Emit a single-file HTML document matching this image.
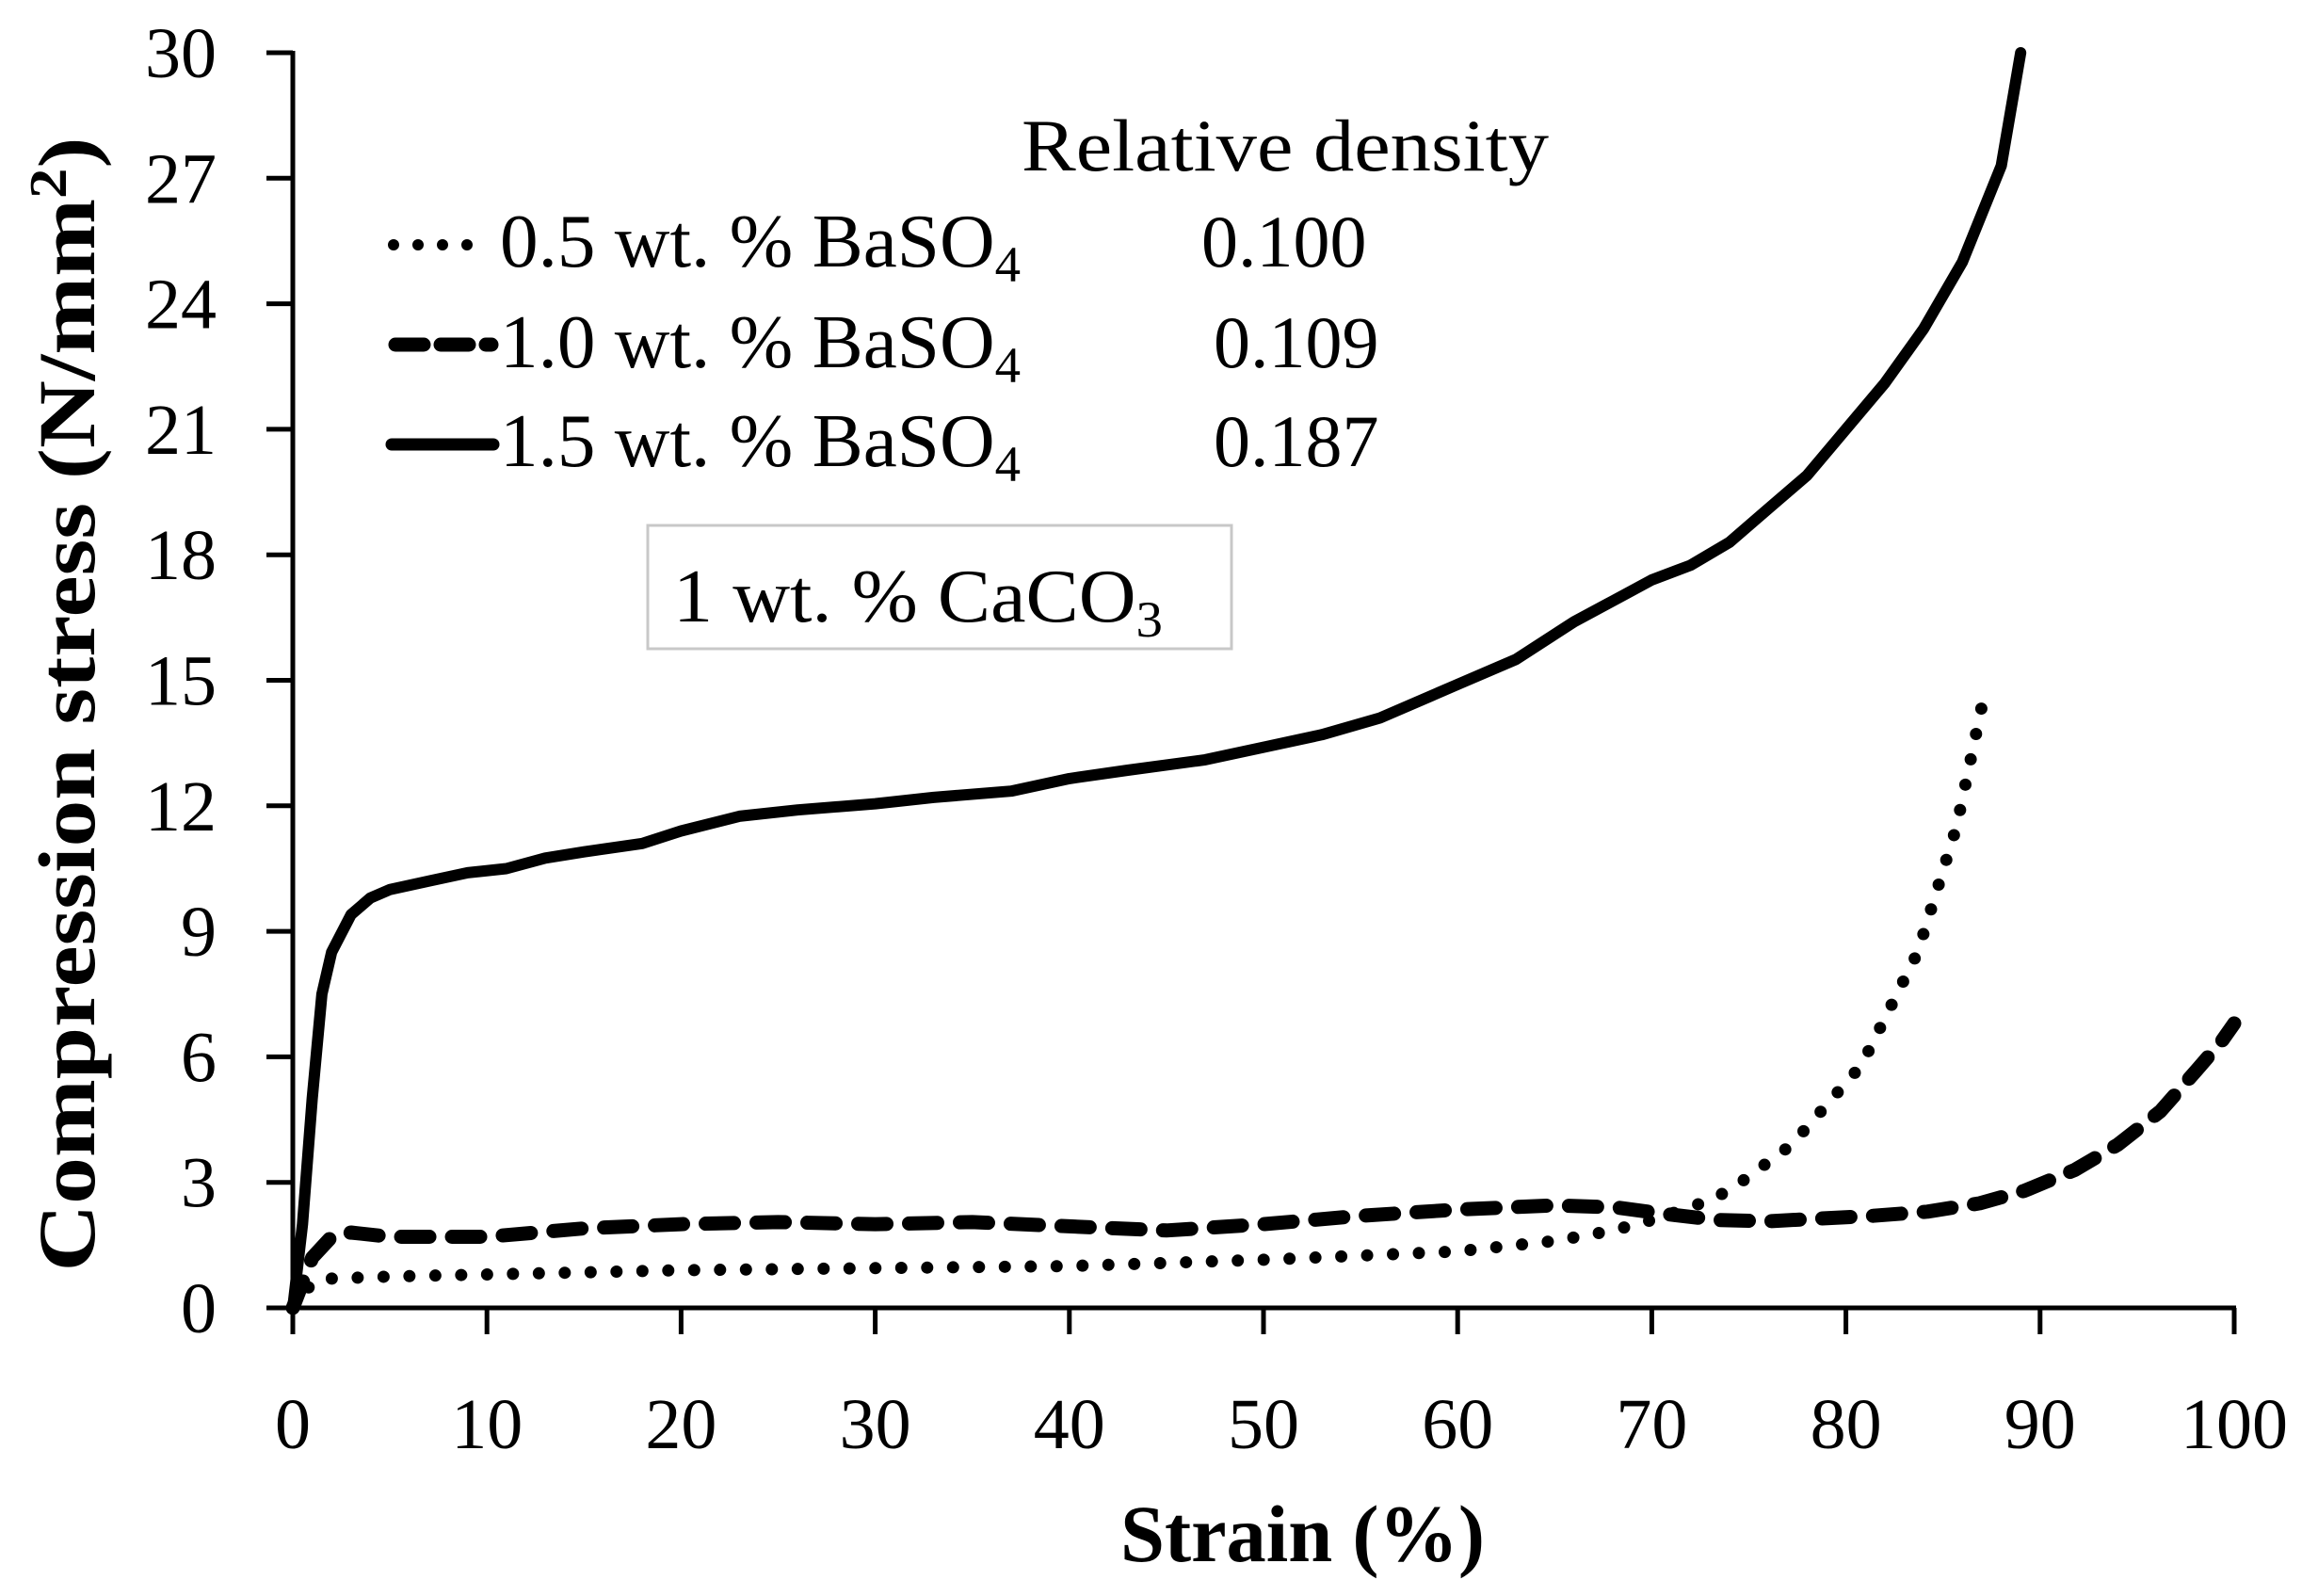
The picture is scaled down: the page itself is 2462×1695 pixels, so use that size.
<!DOCTYPE html>
<html><head><meta charset="utf-8"><style>
html,body{margin:0;padding:0;background:#fff;}
svg{display:block;}
text{font-family:"Liberation Serif",serif;fill:#000;}
</style></head><body>
<svg id="chart" width="2462" height="1695" viewBox="0 0 2462 1695" xmlns="http://www.w3.org/2000/svg">
<g id="series"></g>
<g id="axes"></g>
<text transform="translate(100,748) rotate(-90)" text-anchor="middle" font-size="86" font-weight="bold" textLength="1205" lengthAdjust="spacingAndGlyphs">Compression stress (N/mm<tspan dy="-30" font-size="56">2</tspan><tspan dy="30">)</tspan></text>
<text x="1190" y="1658" font-size="86" font-weight="bold" textLength="387" lengthAdjust="spacingAndGlyphs">Strain (%)</text>
<g>
<text x="1085" y="181" font-size="78" textLength="560" lengthAdjust="spacingAndGlyphs">Relative density</text>
<line x1="418" y1="260" x2="522" y2="260" stroke="#000" stroke-width="12" stroke-linecap="round" stroke-dasharray="0 26"/>
<text x="531" y="283" font-size="80" textLength="553" lengthAdjust="spacingAndGlyphs">0.5 wt. % BaSO<tspan dy="16" font-size="54">4</tspan></text>
<text x="1276" y="283" font-size="78">0.100</text>
<line x1="420" y1="366" x2="522" y2="366" stroke="#000" stroke-width="15" stroke-linecap="round" stroke-dasharray="30 18"/>
<text x="531" y="390" font-size="80" textLength="553" lengthAdjust="spacingAndGlyphs">1.0 wt. % BaSO<tspan dy="16" font-size="54">4</tspan></text>
<text x="1289" y="390" font-size="78">0.109</text>
<line x1="416" y1="472" x2="524" y2="472" stroke="#000" stroke-width="13" stroke-linecap="round"/>
<text x="531" y="495" font-size="80" textLength="553" lengthAdjust="spacingAndGlyphs">1.5 wt. % BaSO<tspan dy="16" font-size="54">4</tspan></text>
<text x="1289" y="495" font-size="78">0.187</text>
</g>
<rect x="688" y="558" width="620" height="131" fill="#fff" stroke="#c8c8c8" stroke-width="3"/>
<text x="715" y="660" font-size="80" textLength="520" lengthAdjust="spacingAndGlyphs">1 wt. % CaCO<tspan dy="16" font-size="54">3</tspan></text>
</svg>
<script>
const xTicks = [0,10,20,30,40,50,60,70,80,90,100];
const yTicks = [0,3,6,9,12,15,18,21,24,27,30];
const dotX = [0,1,2,5,10,20,30,40,50,55,60,65,68,70,72,74,77.2,80.8,83.7,85.7,87.1];
const dotY = [0,0.6,0.7,0.75,0.8,0.9,0.95,1.0,1.15,1.25,1.35,1.6,1.85,2.1,2.4,2.8,3.9,5.8,8.5,11.5,14.6];
const dashX = [0,1,2,3,5,10,15,20,25,30,35,40,45,50,55,60,65,68.2,70.6,73.4,76,81.4,84.2,86.9,89.2,91.8,94,96.2,98.1,99.4,100];
const dashY = [0,1.2,1.7,1.8,1.7,1.7,1.9,2.0,2.05,2.0,2.05,1.95,1.85,2.0,2.2,2.35,2.45,2.4,2.25,2.1,2.07,2.2,2.3,2.5,2.8,3.3,3.9,4.7,5.7,6.4,6.8];
const solidX = [0,0.5,1,1.5,2,3,4,5,7,9,11,13,15,18,20,23,26,30,33,37,40,43,47,50,53,56,60,63,66,68,70,72,74,76,78,80,82,84,86,88,89];
const solidY = [0,2,5,7.5,8.5,9.4,9.8,10,10.2,10.4,10.5,10.75,10.9,11.1,11.4,11.75,11.9,12.05,12.2,12.35,12.65,12.85,13.1,13.4,13.7,14.1,14.9,15.5,16.4,16.9,17.4,17.75,18.3,19.1,19.9,21.0,22.1,23.4,25.0,27.3,30];

const X0=311, X1=2373, Y0=1389, Y1=56;
function sx(v){return X0+(X1-X0)*v/100;}
function sy(v){return Y0-(Y0-Y1)*v/30;}
const NS='http://www.w3.org/2000/svg';
const axes=document.getElementById('axes');
const series=document.getElementById('series');
function mk(tag,attrs,parent){const e=document.createElementNS(NS,tag);for(const k in attrs)e.setAttribute(k,attrs[k]);parent.appendChild(e);return e;}

let yl=mk('line',{x1:X0,y1:Y1-2,x2:X0,y2:Y0+2,stroke:'#000','stroke-width':5},axes);


let xl=mk('line',{x1:X0-2,y1:Y0,x2:X1+2,y2:Y0,stroke:'#000','stroke-width':5},axes);


yTicks.forEach(v=>{
  let t=mk('line',{x1:X0-28,y1:sy(v),x2:X0,y2:sy(v),stroke:'#000','stroke-width':5},axes);
  
  
  let l=mk('text',{x:230,y:sy(v)+26,'text-anchor':'end','font-size':76},axes);
  
  
  l.textContent=v;
});
xTicks.forEach(v=>{
  let t=mk('line',{x1:sx(v),y1:Y0,x2:sx(v),y2:Y0+28,stroke:'#000','stroke-width':5},axes);
  
  
  let l=mk('text',{x:sx(v),y:1538,'text-anchor':'middle','font-size':76},axes);
  
  
  l.textContent=v;
});
function path(xs,ys){return xs.map((x,i)=>(i?'L':'M')+sx(x).toFixed(1)+','+sy(ys[i]).toFixed(1)).join(' ');}
let p1=mk('path',{d:path(solidX,solidY),fill:'none',stroke:'#000','stroke-width':12,'stroke-linejoin':'round','stroke-linecap':'round'},series);


let p2=mk('path',{d:path(dashX,dashY),fill:'none',stroke:'#000','stroke-width':15,'stroke-linejoin':'round','stroke-linecap':'round','stroke-dasharray':'30 24'},series);


let p3=mk('path',{d:path(dotX,dotY),fill:'none',stroke:'#000','stroke-width':13,'stroke-linejoin':'round','stroke-linecap':'round','stroke-dasharray':'0 27.5'},series);


</script>
</body></html>
